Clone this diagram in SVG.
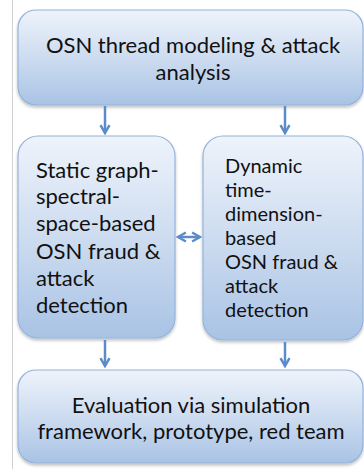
<svg xmlns="http://www.w3.org/2000/svg" width="364" height="469" viewBox="0 0 364 469">
<defs>
<linearGradient id="g" x1="0" y1="0" x2="0" y2="1">
<stop offset="0" stop-color="#eef3fb"/>
<stop offset="0.5" stop-color="#cddcf0"/>
<stop offset="1" stop-color="#a9c3e5"/>
</linearGradient>
<marker id="ah" viewBox="0 0 10 10" refX="8.5" refY="5" markerWidth="4.5" markerHeight="4.5" orient="auto-start-reverse" markerUnits="strokeWidth">
<path d="M1.5,1 L8.5,5 L1.5,9" fill="none" stroke="#5b8cc8" stroke-width="2.2"/>
</marker>
<filter id="sh" x="-5%" y="-5%" width="110%" height="115%">
<feDropShadow dx="0" dy="2" stdDeviation="1.5" flood-color="#000" flood-opacity="0.25"/>
</filter>
</defs>
<style>
.box{fill:url(#g);stroke:#93b3dc;stroke-width:1.2;filter:url(#sh)}
.t{font-family:Lato,"Open Sans",sans-serif;font-size:22px;fill:#111}
.s{font-size:20px}
.c{text-anchor:middle}
.conn{stroke:#5b8cc8;stroke-width:2.5;fill:none;marker-end:url(#ah)}
</style>
<rect width="364" height="469" fill="#fff"/>
<line x1="12.5" y1="0" x2="12.5" y2="469" stroke="#d0d0d0" stroke-width="1"/>
<g id="top">
<rect class="box" x="18" y="10" width="345" height="95" rx="18"/>
<text class="t c" x="193" y="53">OSN thread modeling &amp; attack</text>
<text class="t c" x="193" y="80">analysis</text>
</g>
<g id="static">
<rect class="box" x="18" y="136" width="157" height="202" rx="20"/>
<text class="t" x="36" y="178">Static graph-</text>
<text class="t" x="36" y="204">spectral-</text>
<text class="t" x="36" y="231">space-based</text>
<text class="t" x="36" y="259">OSN fraud &amp;</text>
<text class="t" x="36" y="286">attack</text>
<text class="t" x="36" y="313">detection</text>
</g>
<g id="dynamic">
<rect class="box" x="203" y="136" width="160" height="204" rx="20"/>
<text class="t s" x="225" y="173">Dynamic</text>
<text class="t s" x="225" y="197">time-</text>
<text class="t s" x="225" y="221">dimension-</text>
<text class="t s" x="225" y="245">based</text>
<text class="t s" x="225" y="269">OSN fraud &amp;</text>
<text class="t s" x="225" y="293">attack</text>
<text class="t s" x="225" y="317">detection</text>
</g>
<g id="eval">
<rect class="box" x="18" y="370" width="345" height="93" rx="18"/>
<text class="t c" x="191" y="413">Evaluation via simulation</text>
<text class="t c" x="191" y="439">framework, prototype, red team</text>
</g>
<g id="connectors">
<line class="conn" x1="105" y1="106" x2="105" y2="133"/>
<line class="conn" x1="285" y1="106" x2="285" y2="133"/>
<line class="conn" x1="105" y1="340" x2="105" y2="366"/>
<line class="conn" x1="285" y1="342" x2="285" y2="366"/>
<line class="conn" x1="178" y1="237" x2="200" y2="237" marker-start="url(#ah)"/>
</g>
</svg>
